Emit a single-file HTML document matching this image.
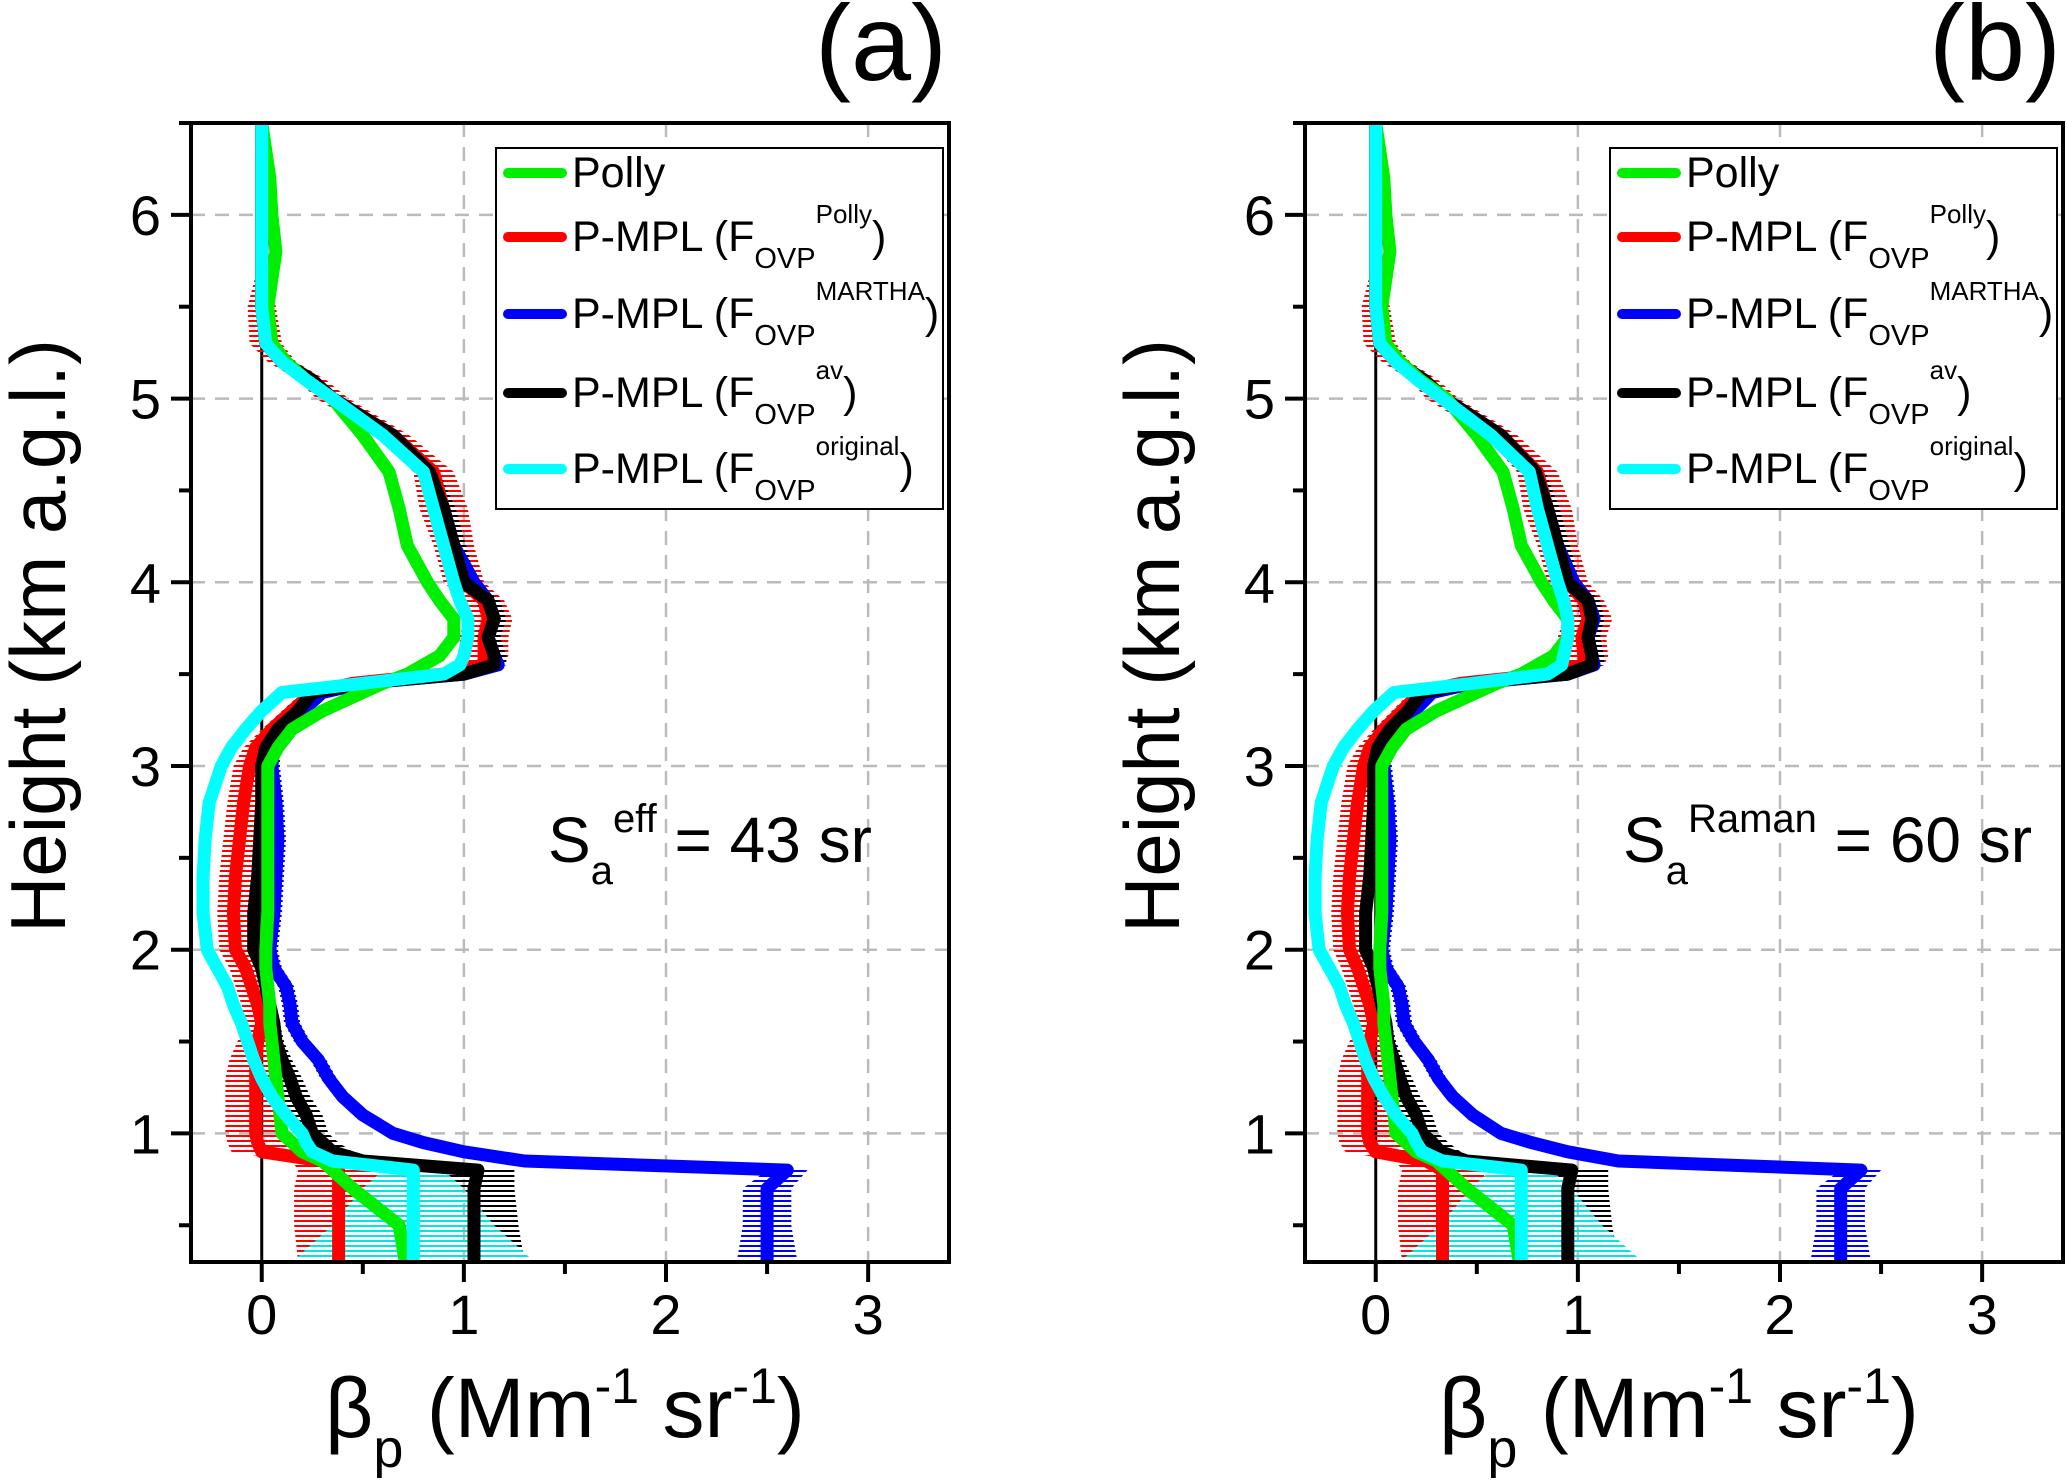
<!DOCTYPE html>
<html><head><meta charset="utf-8"><style>
html,body{margin:0;padding:0;background:#fff}
svg{display:block;font-family:"Liberation Sans",Arial,sans-serif}
</style></head><body>
<svg id="fig" width="2067" height="1484" viewBox="0 0 2067 1484" xmlns="http://www.w3.org/2000/svg">
<defs>
<pattern id="hr" width="8" height="5" patternUnits="userSpaceOnUse"><rect width="8" height="2" fill="#ff0000"/></pattern>
<pattern id="hk" width="8" height="5" patternUnits="userSpaceOnUse"><rect width="8" height="2" fill="#000"/></pattern>
<pattern id="hb" width="8" height="5" patternUnits="userSpaceOnUse"><rect width="8" height="2" fill="#0000ff"/></pattern>
<pattern id="hc" width="8" height="5" patternUnits="userSpaceOnUse"><rect width="8" height="2" fill="#00e5e5"/></pattern>
</defs>
</svg>
<script>
const heights=[0.3,0.5,0.7,0.8,0.85,0.9,0.95,1.0,1.1,1.2,1.3,1.4,1.5,1.6,1.7,1.8,1.9,2.0,2.2,2.4,2.6,2.8,3.0,3.1,3.2,3.3,3.4,3.45,3.5,3.55,3.6,3.7,3.8,3.9,4.0,4.2,4.4,4.6,4.8,5.0,5.1,5.2,5.3,5.5,5.8,6.0,6.2,6.5];
const pollyA=[0.71,0.68,0.45,0.35,0.3,0.2,0.15,0.1,0.09,0.08,0.07,0.06,0.05,0.04,0.04,0.03,0.02,0.02,0.03,0.03,0.03,0.03,0.03,0.08,0.15,0.3,0.5,0.6,0.72,0.8,0.88,0.95,0.95,0.88,0.82,0.72,0.68,0.63,0.5,0.35,0.22,0.12,0.05,0.03,0.07,0.05,0.04,0.0];
const redA=[0.38,0.38,0.38,0.38,0.3,0.0,-0.02,-0.03,-0.03,-0.03,-0.03,-0.03,-0.02,0.0,-0.02,-0.05,-0.08,-0.13,-0.14,-0.13,-0.11,-0.09,-0.06,-0.03,0.05,0.15,0.25,0.45,0.9,1.1,1.1,1.1,1.12,1.1,1.0,0.95,0.9,0.85,0.65,0.35,0.25,0.1,0.02,0.0,0.0,0.0,0.0,0.0];
const blueA=[2.5,2.5,2.5,2.6,1.3,1.0,0.8,0.65,0.5,0.4,0.33,0.28,0.2,0.15,0.14,0.12,0.06,0.04,0.06,0.07,0.08,0.07,0.05,0.06,0.12,0.2,0.3,0.5,1.0,1.17,1.15,1.12,1.15,1.12,1.05,0.95,0.9,0.83,0.65,0.35,0.25,0.1,0.02,0.0,0.0,0.0,0.0,0.0];
const blackA=[1.05,1.05,1.05,1.07,0.5,0.35,0.3,0.25,0.22,0.17,0.14,0.1,0.07,0.06,0.04,0.02,0.0,-0.04,-0.04,-0.02,-0.01,0.0,0.0,0.02,0.08,0.18,0.25,0.5,1.0,1.15,1.15,1.12,1.15,1.12,1.0,0.95,0.9,0.83,0.65,0.35,0.25,0.1,0.02,0.0,0.0,0.0,0.0,0.0];
const cyanA=[0.75,0.75,0.75,0.75,0.35,0.25,0.22,0.2,0.12,0.05,0.0,-0.04,-0.07,-0.1,-0.14,-0.17,-0.22,-0.27,-0.29,-0.29,-0.28,-0.26,-0.2,-0.15,-0.08,0.0,0.1,0.5,0.9,0.98,1.0,1.02,1.02,0.98,0.95,0.9,0.85,0.8,0.6,0.35,0.22,0.1,0.02,0.0,0.0,0.0,0.0,0.0];
const pollyB=[0.71,0.68,0.45,0.35,0.3,0.2,0.15,0.1,0.09,0.08,0.07,0.06,0.05,0.04,0.04,0.03,0.02,0.02,0.03,0.03,0.03,0.03,0.03,0.08,0.15,0.3,0.5,0.6,0.72,0.8,0.88,0.95,0.95,0.88,0.82,0.72,0.68,0.63,0.5,0.35,0.22,0.12,0.05,0.03,0.07,0.05,0.04,0.0];
const redB=[0.33,0.33,0.33,0.33,0.25,0.0,-0.03,-0.04,-0.04,-0.04,-0.04,-0.04,-0.03,-0.01,-0.03,-0.06,-0.09,-0.13,-0.14,-0.13,-0.11,-0.09,-0.06,-0.03,0.04,0.13,0.22,0.42,0.85,1.03,1.03,1.02,1.05,1.03,0.95,0.9,0.85,0.8,0.62,0.33,0.24,0.1,0.02,0.0,0.0,0.0,0.0,0.0];
const blueB=[2.3,2.3,2.3,2.4,1.2,0.95,0.77,0.62,0.48,0.38,0.31,0.26,0.19,0.14,0.13,0.11,0.05,0.03,0.05,0.06,0.07,0.06,0.04,0.05,0.11,0.19,0.28,0.48,0.95,1.08,1.07,1.05,1.08,1.05,0.98,0.9,0.85,0.79,0.62,0.34,0.24,0.1,0.02,0.0,0.0,0.0,0.0,0.0];
const blackB=[0.95,0.95,0.95,0.97,0.45,0.32,0.28,0.23,0.2,0.15,0.12,0.09,0.06,0.05,0.03,0.01,-0.01,-0.05,-0.05,-0.03,-0.02,-0.01,-0.01,0.01,0.07,0.16,0.23,0.47,0.95,1.07,1.07,1.05,1.07,1.05,0.95,0.9,0.85,0.79,0.62,0.34,0.24,0.1,0.02,0.0,0.0,0.0,0.0,0.0];
const cyanB=[0.72,0.72,0.72,0.72,0.33,0.23,0.2,0.18,0.1,0.04,-0.01,-0.05,-0.08,-0.11,-0.15,-0.18,-0.23,-0.28,-0.3,-0.3,-0.29,-0.27,-0.21,-0.16,-0.09,-0.01,0.09,0.48,0.85,0.92,0.93,0.95,0.95,0.93,0.9,0.85,0.8,0.76,0.57,0.33,0.21,0.1,0.02,0.0,0.0,0.0,0.0,0.0];
const errRed=[0.2,0.22,0.22,0.2,0.15,0.15,0.15,0.15,0.15,0.15,0.15,0.13,0.1,0.08,0.08,0.08,0.08,0.08,0.08,0.08,0.08,0.08,0.08,0.06,0.05,0.05,0.05,0.05,0.08,0.1,0.12,0.12,0.12,0.1,0.1,0.1,0.12,0.1,0.08,0.08,0.07,0.07,0.08,0.07,0,0,0,0];
const errBlack=[0.25,0.22,0.2,0.18,0.12,0.1,0.08,0.08,0.08,0.07,0.06,0.05,0.04,0.03,0.03,0.03,0.03,0.03,0.03,0.03,0.03,0.03,0.03,0.03,0.03,0.03,0.03,0.03,0.05,0.06,0.06,0.06,0.06,0.06,0.06,0.06,0.06,0.05,0.05,0.05,0.04,0.04,0.03,0.02,0,0,0,0];
const errBlue=[0.15,0.12,0.12,0.1,0.05,0.04,0.04,0.04,0.04,0.04,0.04,0.04,0.04,0.04,0.04,0.04,0.04,0.04,0.04,0.04,0.04,0.04,0.04,0.03,0.03,0.03,0.03,0.03,0.04,0.04,0.04,0.04,0.04,0.04,0.03,0.03,0.03,0.03,0.03,0.03,0.02,0.02,0.02,0.01,0,0,0,0];
const errCyan=[0.6,0.4,0.25,0.15,0.05,0.03,0.03,0.02,0.02,0.02,0.02,0.02,0.02,0.02,0.02,0.02,0.02,0.02,0.02,0.02,0.02,0.02,0.02,0.02,0.02,0.02,0.02,0.02,0.02,0.02,0.02,0.02,0.02,0.02,0.02,0.02,0.02,0.02,0.02,0.02,0.02,0.02,0.02,0.01,0,0,0,0];
const xTicks=[0,1,2,3];
const yTicks=[1,2,3,4,5,6];

const NS="http://www.w3.org/2000/svg";
const svg=document.getElementById('fig');
function el(tag,attrs,parent){const e=document.createElementNS(NS,tag);for(const k in attrs)e.setAttribute(k,attrs[k]);(parent||svg).appendChild(e);return e;}

function panel(px,label,series,saMain,saSup,saX,tag){
  const L=px,R=px+758,T=123,B=1262,xmin=-0.35,xmax=3.4,ymin=0.3,ymax=6.5;
  const X=v=>L+(v-xmin)/(xmax-xmin)*(R-L);
  const Y=v=>B-(v-ymin)/(ymax-ymin)*(B-T);
  const g=el('g',{});
  
  
  xTicks.forEach(t=>{if(t>0){const l=el('line',{x1:X(t),x2:X(t),y1:T,y2:B,stroke:'#bbb','stroke-width':2.5,'stroke-dasharray':'14,10'},g);
    }});
  yTicks.forEach(t=>{const l=el('line',{x1:L,x2:R,y1:Y(t),y2:Y(t),stroke:'#bbb','stroke-width':2.5,'stroke-dasharray':'14,10'},g);
    });
  const z=el('line',{x1:X(0),x2:X(0),y1:T,y2:B,stroke:'#000','stroke-width':3},g);
  
  const cp=el('clipPath',{id:'clip'+tag},g);el('rect',{x:L,y:T,width:R-L,height:B-T},cp);
  const pg=el('g',{'clip-path':'url(#clip'+tag+')'},g);
  series.forEach(s=>{if(!s.err)return;
    let pts=heights.map((h,i)=>X(s.v[i]-s.err[i])+','+Y(h));
    let pts2=heights.map((h,i)=>X(s.v[i]+s.err[i])+','+Y(h)).reverse();
    const p=el('polygon',{points:pts.concat(pts2).join(' '),fill:'url(#'+s.pat+')'},pg);
    });
  series.forEach(s=>{const d=heights.map((h,i)=>(i?'L':'M')+X(s.v[i]).toFixed(1)+','+Y(h).toFixed(1)).join('');
    const p=el('path',{d:d,fill:'none',stroke:s.c,'stroke-width':13,'stroke-linejoin':'round','stroke-linecap':'round'},pg);
    });
  const f=el('rect',{x:L,y:T,width:R-L,height:B-T,fill:'none',stroke:'#000','stroke-width':4},g);
  
  for(let t=0;t<=3.01;t+=0.5){const major=Math.abs(t-Math.round(t))<1e-6;
    el('line',{x1:X(t),x2:X(t),y1:B,y2:B+(major?20:12),stroke:'#000','stroke-width':4},g);}
  xTicks.forEach(t=>{const tx=el('text',{x:X(t),y:1334,'font-size':56,'text-anchor':'middle'},g);tx.textContent=t;
    });
  for(let t=0.5;t<=6.51;t+=0.5){const major=Math.abs(t-Math.round(t))<1e-6;
    el('line',{x1:L-(major?20:12),x2:L,y1:Y(t),y2:Y(t),stroke:'#000','stroke-width':4},g);}
  yTicks.forEach(t=>{const tx=el('text',{x:L-30,y:Y(t)+20,'font-size':56,'text-anchor':'end'},g);tx.textContent=t;
    });
  const yt=el('text',{x:0,y:0,'font-size':78,'text-anchor':'middle',transform:'translate('+(px-126)+',636) rotate(-90)'},g);
  yt.textContent='Height (km a.g.l.)';
  
  const xt=el('text',{x:X(1.5),y:1437,'font-size':84,'text-anchor':'middle'},g);
  xt.innerHTML='β<tspan font-size="54" dy="30">p</tspan><tspan dy="-30"> (Mm</tspan><tspan font-size="50" dy="-34">-1</tspan><tspan dy="34"> sr</tspan><tspan font-size="50" dy="-34">-1</tspan><tspan dy="34">)</tspan>';
  
  const pl=el('text',{x:R-2,y:80,'font-size':108,'text-anchor':'end'},g);pl.textContent=label;
  
  const sa=el('text',{x:px+saX,y:862,'font-size':64},g);
  sa.innerHTML='S<tspan font-size="40" dy="22">a</tspan><tspan font-size="40" dy="-52">'+saSup+'</tspan><tspan dy="30"> = '+saMain+' sr</tspan>';
  
  const lg=el('g',{},g);
  
  const lx=px+305;
  el('rect',{x:lx,y:148,width:447,height:361,fill:'#fff',stroke:'#000','stroke-width':2},lg);
  const ents=[['#00ee00',187,'Polly',null],['#ff0000',251,'P-MPL (F','Polly'],['#0000ff',328,'P-MPL (F','MARTHA'],['#000',407,'P-MPL (F','av'],['#00ffff',483,'P-MPL (F','original']];
  ents.forEach(e=>{const eg=el('g',{},lg);
    
    el('line',{x1:lx+12,x2:lx+66,y1:e[1]-14,y2:e[1]-14,stroke:e[0],'stroke-width':10,'stroke-linecap':'round'},eg);
    const t=el('text',{x:lx+76,y:e[1],'font-size':43},eg);
    if(!e[3])t.textContent=e[2];
    else t.innerHTML=e[2]+'<tspan font-size="29" dy="17">OVP</tspan><tspan font-size="26" dy="-45">'+e[3]+'</tspan><tspan dy="28">)</tspan>';
  });
}
panel(191,'(a)',[
 {name:'p-mpl-martha',v:blueA,c:'#0000ff',err:errBlue,pat:'hb'},
 {name:'p-mpl-polly',v:redA,c:'#ff0000',err:errRed,pat:'hr'},
 {name:'p-mpl-av',v:blackA,c:'#000',err:errBlack,pat:'hk'},
 {name:'polly',v:pollyA,c:'#00ee00'},
 {name:'p-mpl-original',v:cyanA,c:'#00ffff',err:errCyan,pat:'hc'}],'43','eff',357,'a');
panel(1305,'(b)',[
 {name:'p-mpl-martha',v:blueB,c:'#0000ff',err:errBlue,pat:'hb'},
 {name:'p-mpl-polly',v:redB,c:'#ff0000',err:errRed,pat:'hr'},
 {name:'p-mpl-av',v:blackB,c:'#000',err:errBlack,pat:'hk'},
 {name:'polly',v:pollyB,c:'#00ee00'},
 {name:'p-mpl-original',v:cyanB,c:'#00ffff',err:errCyan,pat:'hc'}],'60','Raman',318,'b');
</script>
</body></html>
